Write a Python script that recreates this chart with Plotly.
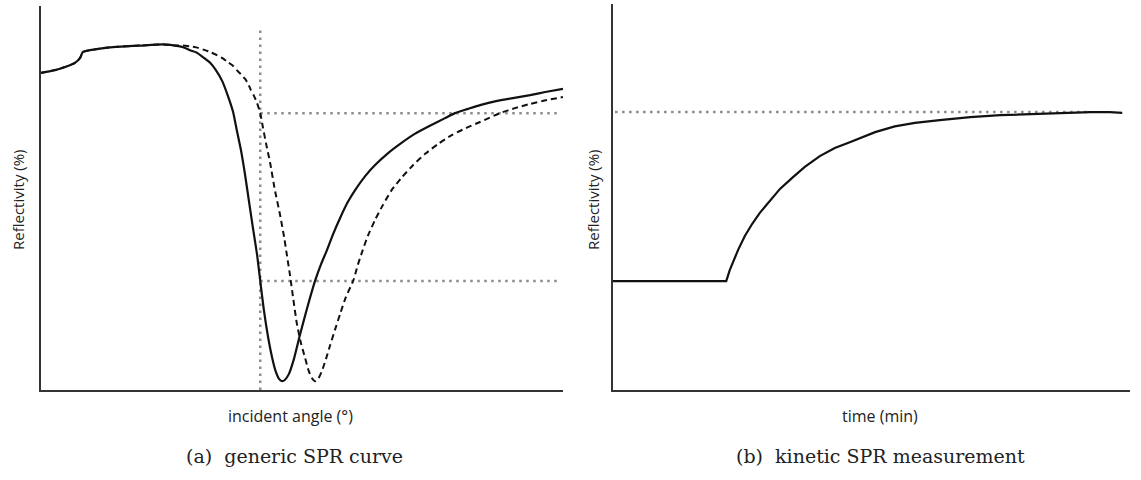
import plotly.graph_objects as go

# ---- (a) generic SPR curve: reflectivity (%) vs incident angle (arbitrary units) ----
angle_shared = [0.0, 2.7, 4.6, 6.5, 7.5, 8.0, 9.4, 11.3, 13.8, 19.0, 23.4, 25.7]
refl_shared = [82.6, 83.3, 84.1, 85.2, 86.5, 88.0, 88.5, 88.9, 89.3, 89.7, 90.0, 89.7]

# before binding (solid)
angle_before = angle_shared + [
    27.2, 28.5, 29.9, 31.2, 32.4, 33.5, 34.7, 35.8, 36.8, 37.5, 38.3, 39.1, 39.8,
    40.6, 41.4, 42.0, 42.7, 43.5, 44.3, 45.0, 45.6, 46.2, 46.7, 47.5, 48.5, 49.6,
    51.0, 52.5, 53.6, 54.8, 55.9, 57.3, 58.8, 60.3, 62.1, 64.0, 66.5, 68.8, 71.6,
    74.5, 77.4, 79.3, 81.8, 84.1, 87.4, 90.4, 93.7, 96.6, 100.0]
refl_before = refl_shared + [
    89.3, 88.5, 87.8, 86.5, 85.2, 83.3, 80.5, 76.6, 72.4, 67.7, 62.5, 56.0, 49.5,
    42.2, 35.2, 28.4, 20.8, 13.8, 8.3, 4.7, 2.9, 2.3, 2.6, 4.2, 8.3, 14.3,
    21.4, 28.4, 32.6, 36.5, 40.4, 44.8, 49.0, 52.3, 55.7, 58.6, 61.7, 64.1, 66.7,
    68.8, 70.8, 72.1, 73.2, 74.2, 75.3, 76.0, 76.8, 77.6, 78.4]

# after binding (dashed)
angle_after = angle_shared + [
    27.2, 28.5, 30.1, 31.4, 32.6, 33.7, 34.9, 35.8, 36.8, 37.5, 38.3, 39.1, 39.7,
    40.2, 40.8, 41.4, 42.0, 42.5, 43.1, 43.9, 44.8, 45.8, 46.6, 47.1, 47.7, 48.3,
    49.0, 49.8, 50.6, 51.3, 51.9, 52.5, 53.1, 53.8, 54.6, 55.4, 56.3, 57.3, 58.4,
    59.8, 60.7, 61.5, 62.6, 64.0, 65.5, 67.2, 69.2, 71.3, 73.6, 76.1, 78.7, 81.4,
    84.1, 87.9, 90.8, 93.7, 96.9, 100.0]
refl_after = refl_shared + [
    89.7, 89.5, 89.1, 88.5, 87.9, 87.2, 86.3, 85.4, 84.4, 83.3, 82.2, 81.0, 79.7,
    78.1, 76.6, 74.7, 72.1, 68.5, 64.3, 59.1, 52.1, 45.6, 39.6, 35.2, 29.9, 24.0,
    17.4, 12.2, 8.3, 4.9, 3.1, 2.3, 2.9, 4.9, 8.1, 11.7, 15.6, 19.8, 24.2,
    28.4, 32.6, 35.9, 40.1, 44.3, 48.2, 52.1, 55.5, 58.6, 61.5, 64.1, 66.4, 68.2,
    69.8, 72.1, 73.4, 74.5, 75.5, 76.3]

# reference guides in panel (a)
ref_angle = 42.0
ref_angle_top = 94.5
ref_levels = [72.1, 28.4]
ref_level_end = 99.4

# ---- (b) kinetic SPR measurement: reflectivity (%) vs time (arbitrary units) ----
time_vals = [0.0, 21.9, 22.6, 23.4, 24.2, 25.5, 26.9, 28.4, 30.4, 32.3, 34.6, 37.1,
             40.0, 42.9, 45.8, 48.2, 50.7, 54.5, 58.4, 63.2, 69.1, 74.9, 80.7, 86.5,
             92.3, 96.1, 98.5]
refl_kinetic = [28.2, 28.2, 31.1, 33.9, 36.3, 39.9, 43.0, 45.9, 49.2, 52.1, 54.9, 57.8,
                60.6, 62.7, 64.2, 65.5, 66.8, 68.3, 69.2, 69.9, 70.7, 71.2, 71.5, 71.8,
                72.0, 72.0, 71.8]
plateau_level = 72.0
plateau_span = [0.4, 92.3]

LINE = "#111111"
DOT = "#8c8c8c"
dot_style = "2.5px,4.5px"

fig = go.Figure()

# panel (a) guides
fig.add_trace(go.Scatter(x=[ref_angle, ref_angle], y=[0, ref_angle_top], mode="lines",
                         line=dict(color=DOT, width=2.5, dash=dot_style),
                         xaxis="x", yaxis="y", hoverinfo="skip"))
for lvl in ref_levels:
    fig.add_trace(go.Scatter(x=[ref_angle, ref_level_end], y=[lvl, lvl], mode="lines",
                             line=dict(color=DOT, width=2.5, dash=dot_style),
                             xaxis="x", yaxis="y", hoverinfo="skip"))

# panel (a) curves
fig.add_trace(go.Scatter(x=angle_after, y=refl_after, mode="lines",
                         line=dict(color=LINE, width=2, dash="6px,4px",
                                   shape="spline", smoothing=0.5),
                         xaxis="x", yaxis="y"))
fig.add_trace(go.Scatter(x=angle_before, y=refl_before, mode="lines",
                         line=dict(color=LINE, width=2.2, shape="spline", smoothing=0.5),
                         xaxis="x", yaxis="y"))

# panel (b)
fig.add_trace(go.Scatter(x=plateau_span, y=[plateau_level, plateau_level], mode="lines",
                         line=dict(color=DOT, width=2.5, dash=dot_style),
                         xaxis="x2", yaxis="y2", hoverinfo="skip"))
fig.add_trace(go.Scatter(x=time_vals, y=refl_kinetic, mode="lines",
                         line=dict(color=LINE, width=2.2),
                         xaxis="x2", yaxis="y2"))

W, H = 1141, 480
axis_common = dict(showline=True, linecolor="#333333", linewidth=2, ticks="",
                   showticklabels=False, showgrid=False, zeroline=False,
                   range=[0, 100], fixedrange=True)

fig.update_layout(
    width=W, height=H,
    margin=dict(l=0, r=0, t=0, b=0),
    paper_bgcolor="white", plot_bgcolor="white",
    showlegend=False,
    xaxis=dict(domain=[41 / W, 563 / W], anchor="y", **axis_common),
    yaxis=dict(domain=[1 - 390 / H, 1 - 6 / H], anchor="x", **axis_common),
    xaxis2=dict(domain=[613 / W, 1130 / W], anchor="y2", **axis_common),
    yaxis2=dict(domain=[1 - 390 / H, 1 - 4 / H], anchor="x2", **axis_common),
)

sans = dict(family="Open Sans, Noto Sans, sans-serif", size=15, color="#222222")
sans_x = dict(family="Open Sans, Noto Sans, sans-serif", size=16, color="#222222")
serif = dict(family="DejaVu Serif, Liberation Serif, serif", size=19, color="#222222")


def px(xp, yp):
    return xp / W, 1 - yp / H


annots = [
    ("Reflectivity (%)", 18, 200, sans, -90),
    ("Reflectivity (%)", 593, 200, sans, -90),
    ("incident angle (°)", 290, 416, sans_x, 0),
    ("time (min)", 880, 416, sans_x, 0),
    ("(a)\u00a0 generic SPR curve", 294, 456, serif, 0),
    ("(b)\u00a0 kinetic SPR measurement", 880, 456, serif, 0),
]
for text, xp, yp, font, ang in annots:
    ax, ay = px(xp, yp)
    fig.add_annotation(text=text, x=ax, y=ay, xref="paper", yref="paper",
                       showarrow=False, font=font, textangle=ang,
                       xanchor="center", yanchor="middle")

fig.write_html("out.html")
